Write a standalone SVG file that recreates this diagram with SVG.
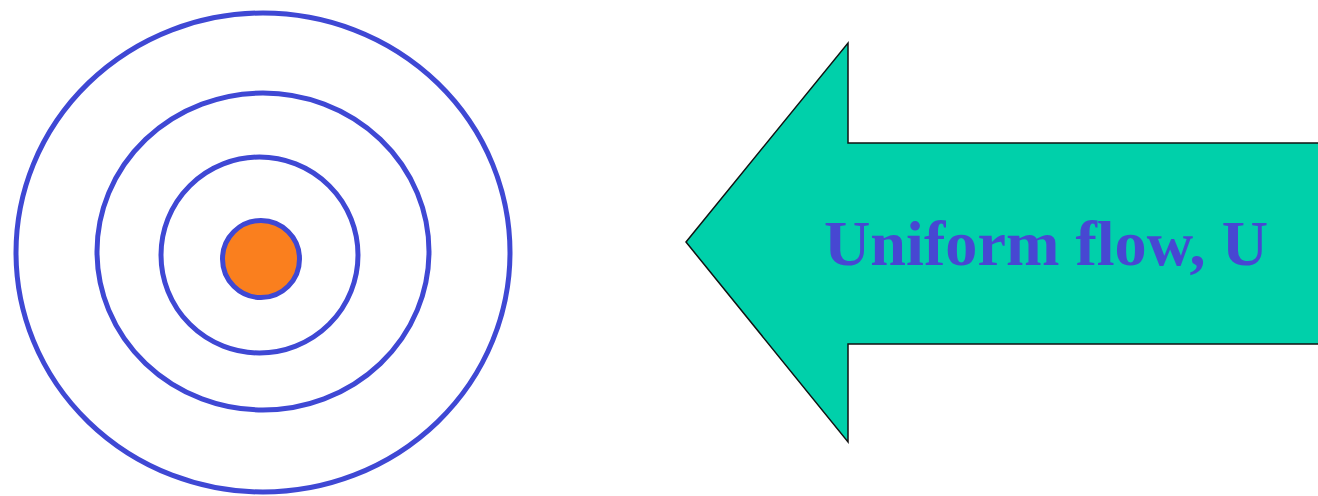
<svg xmlns="http://www.w3.org/2000/svg" width="1318" height="496" viewBox="0 0 1318 496">
  <style>
    .ring { fill: none; stroke: #3F48D4; stroke-width: 5; }
    .core { fill: #FA7F1E; stroke: #3F48D4; stroke-width: 5; }
    .arrow { fill: #00D0AA; stroke: #111; stroke-width: 1.5; stroke-linejoin: miter; }
    .label { font-family: "Liberation Serif", "Times New Roman", serif; font-weight: bold; font-size: 64px; fill: #4747D2; }
  </style>
  <rect width="1318" height="496" fill="#ffffff"/>
  <g id="source">
    <ellipse class="ring" cx="263" cy="252.5" rx="247" ry="239.5"/>
    <ellipse class="ring" cx="263" cy="251.5" rx="166" ry="158.5"/>
    <ellipse class="ring" cx="259.5" cy="255" rx="98.5" ry="98"/>
    <circle class="core" cx="261" cy="259" r="38.5"/>
  </g>
  <g id="uniform-flow">
    <polygon class="arrow" points="686,242 848,43 848,143 1322,143 1322,344 848,344 848,442"/>
    <text class="label" x="824" y="265" textLength="444" lengthAdjust="spacingAndGlyphs">Uniform flow, U</text>
  </g>
  <g id="connectors"/>
</svg>
